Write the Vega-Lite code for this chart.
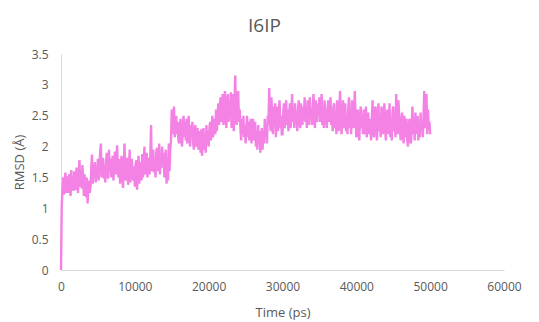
{
  "$schema": "https://vega.github.io/schema/vega-lite/v6.json",
  "width": 443,
  "height": 216,
  "autosize": {"type": "none"},
  "padding": {"left": 61, "top": 54, "right": 35, "bottom": 52},
  "background": "white",
  "title": {"text": "I6IP", "fontSize": 19, "font": "Open Sans", "fontWeight": "normal", "color": "#595959", "anchor": "middle", "dx": -18, "offset": 12},
  "config": {"view": {"stroke": null}},
  "datasets": {"rmsd": [
    {"t":0,"r":0},{"t":100,"r":1.05},{"t":200,"r":1.3},{"t":300,"r":1.5},{"t":400,"r":1.22},{"t":500,"r":1.45},{"t":600,"r":1.58},{"t":700,"r":1.25},{"t":800,"r":1.4},{"t":900,"r":1.52},
    {"t":1000,"r":1.25},{"t":1100,"r":1.55},{"t":1200,"r":1.35},{"t":1300,"r":1.2},{"t":1400,"r":1.62},{"t":1500,"r":1.3},{"t":1600,"r":1.48},{"t":1700,"r":1.28},{"t":1800,"r":1.6},{"t":1900,"r":1.38},
    {"t":2000,"r":1.3},{"t":2100,"r":1.66},{"t":2200,"r":1.42},{"t":2300,"r":1.25},{"t":2400,"r":1.55},{"t":2500,"r":1.78},{"t":2600,"r":1.35},{"t":2700,"r":1.6},{"t":2800,"r":1.32},{"t":2900,"r":1.7},
    {"t":3000,"r":1.45},{"t":3100,"r":1.2},{"t":3200,"r":1.55},{"t":3300,"r":1.3},{"t":3400,"r":1.18},{"t":3500,"r":1.5},{"t":3600,"r":1.08},{"t":3700,"r":1.35},{"t":3800,"r":1.45},{"t":3900,"r":1.25},
    {"t":4000,"r":1.35},{"t":4100,"r":1.65},{"t":4200,"r":1.87},{"t":4300,"r":1.4},{"t":4400,"r":1.7},{"t":4500,"r":1.55},{"t":4600,"r":1.75},{"t":4700,"r":1.42},{"t":4800,"r":1.6},{"t":4900,"r":1.5},
    {"t":5000,"r":1.8},{"t":5100,"r":1.45},{"t":5200,"r":1.65},{"t":5300,"r":1.9},{"t":5400,"r":2.05},{"t":5500,"r":1.5},{"t":5600,"r":1.72},{"t":5700,"r":1.82},{"t":5800,"r":1.48},{"t":5900,"r":1.7},
    {"t":6000,"r":1.42},{"t":6100,"r":1.75},{"t":6200,"r":1.9},{"t":6300,"r":1.55},{"t":6400,"r":1.48},{"t":6500,"r":1.95},{"t":6600,"r":1.6},{"t":6700,"r":1.8},{"t":6800,"r":1.5},{"t":6900,"r":1.72},
    {"t":7000,"r":1.85},{"t":7100,"r":1.45},{"t":7200,"r":1.65},{"t":7300,"r":1.92},{"t":7400,"r":1.55},{"t":7500,"r":1.78},{"t":7600,"r":2.02},{"t":7700,"r":1.6},{"t":7800,"r":1.5},{"t":7900,"r":1.8},
    {"t":8000,"r":1.4},{"t":8100,"r":1.7},{"t":8200,"r":1.85},{"t":8300,"r":1.5},{"t":8400,"r":1.33},{"t":8500,"r":1.65},{"t":8600,"r":2.05},{"t":8700,"r":1.55},{"t":8800,"r":1.45},{"t":8900,"r":1.75},
    {"t":9000,"r":1.82},{"t":9100,"r":1.38},{"t":9200,"r":1.6},{"t":9300,"r":1.95},{"t":9400,"r":1.42},{"t":9500,"r":1.7},{"t":9600,"r":1.8},{"t":9700,"r":1.5},{"t":9800,"r":1.45},{"t":9900,"r":1.68},
    {"t":10000,"r":1.35},{"t":10100,"r":1.7},{"t":10200,"r":1.78},{"t":10300,"r":1.3},{"t":10400,"r":1.55},{"t":10500,"r":1.85},{"t":10600,"r":1.4},{"t":10700,"r":1.62},{"t":10800,"r":1.75},{"t":10900,"r":1.45},
    {"t":11000,"r":1.88},{"t":11100,"r":1.5},{"t":11200,"r":1.65},{"t":11300,"r":2.0},{"t":11400,"r":1.55},{"t":11500,"r":1.75},{"t":11600,"r":1.9},{"t":11700,"r":1.5},{"t":11800,"r":1.7},{"t":11900,"r":1.82},
    {"t":12000,"r":1.55},{"t":12100,"r":1.85},{"t":12200,"r":2.35},{"t":12300,"r":1.6},{"t":12400,"r":1.75},{"t":12500,"r":1.95},{"t":12600,"r":1.58},{"t":12700,"r":1.8},{"t":12800,"r":1.5},{"t":12900,"r":1.9},
    {"t":13000,"r":1.98},{"t":13100,"r":1.6},{"t":13200,"r":1.75},{"t":13300,"r":2.05},{"t":13400,"r":1.55},{"t":13500,"r":1.85},{"t":13600,"r":1.65},{"t":13700,"r":2.0},{"t":13800,"r":1.7},{"t":13900,"r":1.9},
    {"t":14000,"r":1.5},{"t":14100,"r":1.8},{"t":14200,"r":1.95},{"t":14300,"r":1.4},{"t":14400,"r":1.65},{"t":14500,"r":1.45},{"t":14600,"r":2.05},{"t":14700,"r":1.6},{"t":14800,"r":1.95},{"t":14900,"r":2.1},
    {"t":15000,"r":2.6},{"t":15100,"r":2.2},{"t":15200,"r":2.45},{"t":15300,"r":2.65},{"t":15400,"r":2.15},{"t":15500,"r":2.35},{"t":15600,"r":2.5},{"t":15700,"r":2.2},{"t":15800,"r":2.4},{"t":15900,"r":2.1},
    {"t":16000,"r":2.05},{"t":16100,"r":2.35},{"t":16200,"r":2.45},{"t":16300,"r":2.1},{"t":16400,"r":2.0},{"t":16500,"r":2.3},{"t":16600,"r":2.5},{"t":16700,"r":2.15},{"t":16800,"r":2.4},{"t":16900,"r":2.1},
    {"t":17000,"r":2.45},{"t":17100,"r":2.05},{"t":17200,"r":2.3},{"t":17300,"r":2.5},{"t":17400,"r":2.1},{"t":17500,"r":2.0},{"t":17600,"r":2.35},{"t":17700,"r":2.2},{"t":17800,"r":2.4},{"t":17900,"r":2.05},
    {"t":18000,"r":1.95},{"t":18100,"r":2.25},{"t":18200,"r":2.35},{"t":18300,"r":2.0},{"t":18400,"r":2.2},{"t":18500,"r":2.3},{"t":18600,"r":1.95},{"t":18700,"r":2.15},{"t":18800,"r":2.25},{"t":18900,"r":1.9},
    {"t":19000,"r":2.28},{"t":19100,"r":1.85},{"t":19200,"r":2.1},{"t":19300,"r":2.3},{"t":19400,"r":1.95},{"t":19500,"r":2.2},{"t":19600,"r":1.9},{"t":19700,"r":2.35},{"t":19800,"r":2.05},{"t":19900,"r":2.25},
    {"t":20000,"r":2.0},{"t":20100,"r":2.3},{"t":20200,"r":2.4},{"t":20300,"r":2.1},{"t":20400,"r":2.25},{"t":20500,"r":2.5},{"t":20600,"r":2.15},{"t":20700,"r":2.35},{"t":20800,"r":2.45},{"t":20900,"r":2.2},
    {"t":21000,"r":2.6},{"t":21100,"r":2.25},{"t":21200,"r":2.45},{"t":21300,"r":2.7},{"t":21400,"r":2.35},{"t":21500,"r":2.55},{"t":21600,"r":2.8},{"t":21700,"r":2.4},{"t":21800,"r":2.65},{"t":21900,"r":2.85},
    {"t":22000,"r":2.35},{"t":22100,"r":2.6},{"t":22200,"r":2.9},{"t":22300,"r":2.45},{"t":22400,"r":2.3},{"t":22500,"r":2.75},{"t":22600,"r":2.85},{"t":22700,"r":2.4},{"t":22800,"r":2.6},{"t":22900,"r":2.5},
    {"t":23000,"r":2.88},{"t":23100,"r":2.3},{"t":23200,"r":2.55},{"t":23300,"r":2.85},{"t":23400,"r":2.25},{"t":23500,"r":2.7},{"t":23600,"r":3.15},{"t":23700,"r":2.45},{"t":23800,"r":2.35},{"t":23900,"r":2.8},
    {"t":24000,"r":2.9},{"t":24100,"r":2.4},{"t":24200,"r":2.6},{"t":24300,"r":2.3},{"t":24400,"r":2.1},{"t":24500,"r":2.45},{"t":24600,"r":2.2},{"t":24700,"r":2.5},{"t":24800,"r":2.15},{"t":24900,"r":2.35},
    {"t":25000,"r":2.05},{"t":25100,"r":2.3},{"t":25200,"r":2.5},{"t":25300,"r":2.15},{"t":25400,"r":2.4},{"t":25500,"r":2.1},{"t":25600,"r":2.35},{"t":25700,"r":2.45},{"t":25800,"r":2.05},{"t":25900,"r":2.3},
    {"t":26000,"r":2.45},{"t":26100,"r":2.1},{"t":26200,"r":2.3},{"t":26300,"r":2.4},{"t":26400,"r":2.0},{"t":26500,"r":2.2},{"t":26600,"r":1.95},{"t":26700,"r":2.35},{"t":26800,"r":2.1},{"t":26900,"r":2.25},
    {"t":27000,"r":1.9},{"t":27100,"r":2.15},{"t":27200,"r":2.3},{"t":27300,"r":1.95},{"t":27400,"r":2.2},{"t":27500,"r":2.05},{"t":27600,"r":2.45},{"t":27700,"r":2.15},{"t":27800,"r":2.3},{"t":27900,"r":2.05},
    {"t":28000,"r":2.5},{"t":28100,"r":2.35},{"t":28200,"r":2.95},{"t":28300,"r":2.4},{"t":28400,"r":2.25},{"t":28500,"r":2.8},{"t":28600,"r":2.5},{"t":28700,"r":2.2},{"t":28800,"r":2.65},{"t":28900,"r":2.4},
    {"t":29000,"r":2.7},{"t":29100,"r":2.15},{"t":29200,"r":2.45},{"t":29300,"r":2.65},{"t":29400,"r":2.25},{"t":29500,"r":2.55},{"t":29600,"r":2.75},{"t":29700,"r":2.3},{"t":29800,"r":2.5},{"t":29900,"r":2.2},
    {"t":30000,"r":2.2},{"t":30100,"r":2.55},{"t":30200,"r":2.7},{"t":30300,"r":2.3},{"t":30400,"r":2.45},{"t":30500,"r":2.75},{"t":30600,"r":2.35},{"t":30700,"r":2.6},{"t":30800,"r":2.25},{"t":30900,"r":2.5},
    {"t":31000,"r":2.7},{"t":31100,"r":2.3},{"t":31200,"r":2.5},{"t":31300,"r":2.85},{"t":31400,"r":2.4},{"t":31500,"r":2.6},{"t":31600,"r":2.3},{"t":31700,"r":2.7},{"t":31800,"r":2.45},{"t":31900,"r":2.55},
    {"t":32000,"r":2.25},{"t":32100,"r":2.6},{"t":32200,"r":2.75},{"t":32300,"r":2.4},{"t":32400,"r":2.3},{"t":32500,"r":2.7},{"t":32600,"r":2.5},{"t":32700,"r":2.35},{"t":32800,"r":2.65},{"t":32900,"r":2.45},
    {"t":33000,"r":2.8},{"t":33100,"r":2.4},{"t":33200,"r":2.6},{"t":33300,"r":2.3},{"t":33400,"r":2.75},{"t":33500,"r":2.5},{"t":33600,"r":2.35},{"t":33700,"r":2.8},{"t":33800,"r":2.45},{"t":33900,"r":2.6},
    {"t":34000,"r":2.35},{"t":34100,"r":2.65},{"t":34200,"r":2.85},{"t":34300,"r":2.45},{"t":34400,"r":2.3},{"t":34500,"r":2.75},{"t":34600,"r":2.55},{"t":34700,"r":2.4},{"t":34800,"r":2.7},{"t":34900,"r":2.5},
    {"t":35000,"r":2.8},{"t":35100,"r":2.4},{"t":35200,"r":2.6},{"t":35300,"r":2.85},{"t":35400,"r":2.35},{"t":35500,"r":2.55},{"t":35600,"r":2.3},{"t":35700,"r":2.75},{"t":35800,"r":2.5},{"t":35900,"r":2.45},
    {"t":36000,"r":2.3},{"t":36100,"r":2.6},{"t":36200,"r":2.75},{"t":36300,"r":2.4},{"t":36400,"r":2.55},{"t":36500,"r":2.8},{"t":36600,"r":2.35},{"t":36700,"r":2.5},{"t":36800,"r":2.25},{"t":36900,"r":2.65},
    {"t":37000,"r":2.7},{"t":37100,"r":2.3},{"t":37200,"r":2.5},{"t":37300,"r":2.2},{"t":37400,"r":2.75},{"t":37500,"r":2.45},{"t":37600,"r":2.25},{"t":37700,"r":2.6},{"t":37800,"r":2.9},{"t":37900,"r":2.35},
    {"t":38000,"r":2.2},{"t":38100,"r":2.55},{"t":38200,"r":2.75},{"t":38300,"r":2.3},{"t":38400,"r":2.45},{"t":38500,"r":2.7},{"t":38600,"r":2.25},{"t":38700,"r":2.5},{"t":38800,"r":2.2},{"t":38900,"r":2.6},
    {"t":39000,"r":2.8},{"t":39100,"r":2.3},{"t":39200,"r":2.5},{"t":39300,"r":2.2},{"t":39400,"r":2.75},{"t":39500,"r":2.45},{"t":39600,"r":2.3},{"t":39700,"r":2.6},{"t":39800,"r":2.9},{"t":39900,"r":2.4},
    {"t":40000,"r":2.15},{"t":40100,"r":2.45},{"t":40200,"r":2.6},{"t":40300,"r":2.2},{"t":40400,"r":2.1},{"t":40500,"r":2.5},{"t":40600,"r":2.65},{"t":40700,"r":2.3},{"t":40800,"r":2.4},{"t":40900,"r":2.2},
    {"t":41000,"r":2.6},{"t":41100,"r":2.2},{"t":41200,"r":2.4},{"t":41300,"r":2.65},{"t":41400,"r":2.15},{"t":41500,"r":2.35},{"t":41600,"r":2.55},{"t":41700,"r":2.2},{"t":41800,"r":2.45},{"t":41900,"r":2.3},
    {"t":42000,"r":2.1},{"t":42100,"r":2.45},{"t":42200,"r":2.75},{"t":42300,"r":2.25},{"t":42400,"r":2.15},{"t":42500,"r":2.6},{"t":42600,"r":2.65},{"t":42700,"r":2.3},{"t":42800,"r":2.1},{"t":42900,"r":2.5},
    {"t":43000,"r":2.7},{"t":43100,"r":2.25},{"t":43200,"r":2.45},{"t":43300,"r":2.15},{"t":43400,"r":2.65},{"t":43500,"r":2.4},{"t":43600,"r":2.2},{"t":43700,"r":2.55},{"t":43800,"r":2.7},{"t":43900,"r":2.3},
    {"t":44000,"r":2.1},{"t":44100,"r":2.45},{"t":44200,"r":2.6},{"t":44300,"r":2.2},{"t":44400,"r":2.35},{"t":44500,"r":2.7},{"t":44600,"r":2.15},{"t":44700,"r":2.4},{"t":44800,"r":2.1},{"t":44900,"r":2.55},
    {"t":45000,"r":2.65},{"t":45100,"r":2.25},{"t":45200,"r":2.45},{"t":45300,"r":2.15},{"t":45400,"r":2.85},{"t":45500,"r":2.4},{"t":45600,"r":2.2},{"t":45700,"r":2.75},{"t":45800,"r":2.5},{"t":45900,"r":2.3},
    {"t":46000,"r":2.1},{"t":46100,"r":2.4},{"t":46200,"r":2.55},{"t":46300,"r":2.2},{"t":46400,"r":2.05},{"t":46500,"r":2.5},{"t":46600,"r":2.3},{"t":46700,"r":2.15},{"t":46800,"r":2.45},{"t":46900,"r":2.1},
    {"t":47000,"r":2.0},{"t":47100,"r":2.3},{"t":47200,"r":2.45},{"t":47300,"r":2.1},{"t":47400,"r":2.05},{"t":47500,"r":2.35},{"t":47600,"r":2.65},{"t":47700,"r":2.2},{"t":47800,"r":2.4},{"t":47900,"r":2.1},
    {"t":48000,"r":2.55},{"t":48100,"r":2.2},{"t":48200,"r":2.35},{"t":48300,"r":2.5},{"t":48400,"r":2.1},{"t":48500,"r":2.3},{"t":48600,"r":2.15},{"t":48700,"r":2.55},{"t":48800,"r":2.25},{"t":48900,"r":2.4},
    {"t":49000,"r":2.15},{"t":49100,"r":2.5},{"t":49200,"r":2.9},{"t":49300,"r":2.3},{"t":49400,"r":2.45},{"t":49500,"r":2.85},{"t":49600,"r":2.2},{"t":49700,"r":2.6},{"t":49800,"r":2.3},{"t":49900,"r":2.4},
    {"t":50000,"r":2.2}
  ]},
  "data": {"name": "rmsd"},
  "mark": {"type": "line", "color": "#F382E4", "strokeWidth": 2.4, "interpolate": "linear"},
  "encoding": {
    "x": {"field": "t", "type": "quantitative", "title": "Time (ps)",
      "scale": {"domain": [0, 60000], "nice": false},
      "axis": {"values": [0,10000,20000,30000,40000,50000,60000], "grid": false, "ticks": false, "domainColor": "#D9D9D9", "domainWidth": 1,
        "labelFont": "Open Sans", "labelFontSize": 12, "labelColor": "#595959", "labelPadding": 11, "format": "d",
        "titleFont": "Open Sans", "titleFontSize": 13, "titleFontWeight": "normal", "titleColor": "#595959", "titlePadding": 14, "labelFlush": false}},
    "y": {"field": "r", "type": "quantitative", "title": "RMSD (Å)",
      "scale": {"domain": [0, 3.5], "nice": false},
      "axis": {"values": [0,0.5,1,1.5,2,2.5,3,3.5], "grid": false, "ticks": false, "domainColor": "#D9D9D9", "domainWidth": 1,
        "labelFont": "Open Sans", "labelFontSize": 12, "labelColor": "#595959", "labelPadding": 13, "format": "~g",
        "titleFont": "Open Sans", "titleFontSize": 13, "titleFontWeight": "normal", "titleColor": "#595959", "titlePadding": 5}}
  }
}
